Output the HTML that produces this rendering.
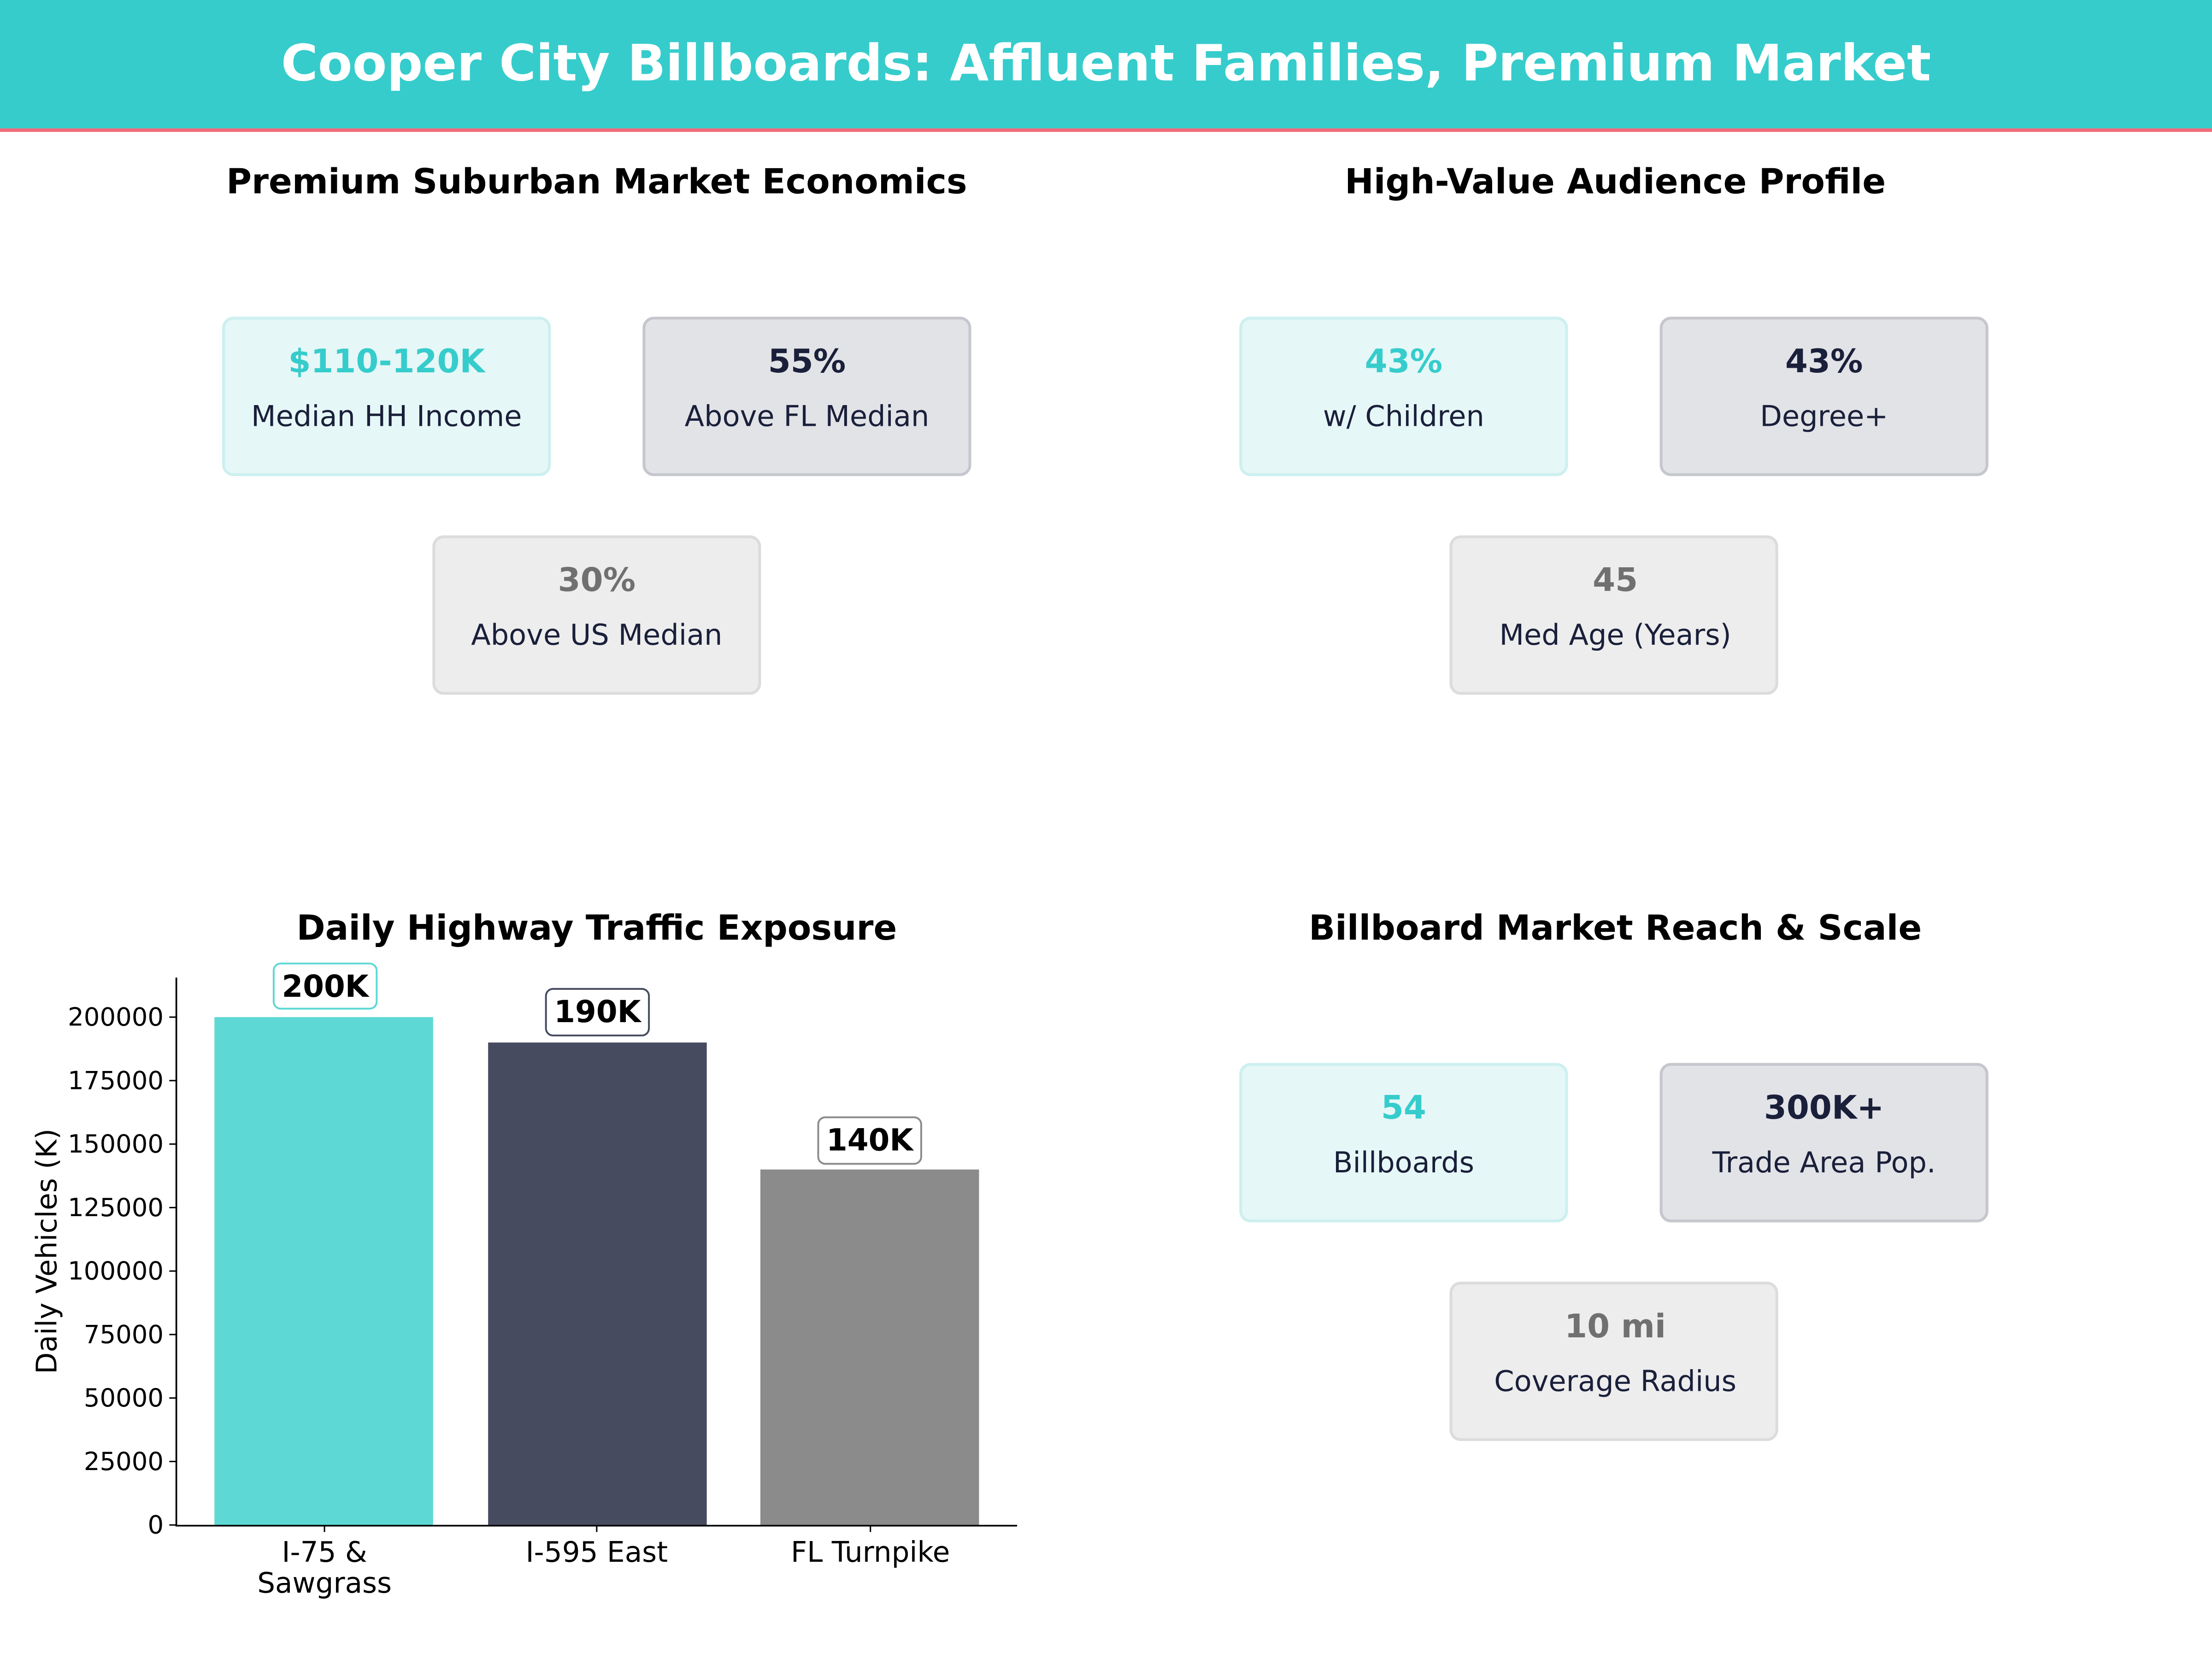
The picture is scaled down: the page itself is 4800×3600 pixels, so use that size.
<!DOCTYPE html>
<html><head><meta charset="utf-8"><style>
html,body{margin:0;padding:0;background:#fff}
svg{display:block}
text{font-family:"DejaVu Sans","Liberation Sans",sans-serif}
.t{font-weight:bold;font-size:24.5px;fill:#000;text-anchor:middle}
.v{font-weight:bold;font-size:23px;text-anchor:middle}
.l{font-size:20.3px;fill:#1a1f3a;text-anchor:middle}
.tk{font-size:17.8px;fill:#000}
.xk{font-size:20px;fill:#000}
</style></head><body>
<svg width="4800" height="3600" viewBox="0 0 1568 1176" xmlns="http://www.w3.org/2000/svg">
<rect x="0" y="0" width="1568" height="91" fill="#36cccc"/>
<rect x="0" y="91" width="1568" height="2.5" fill="#f06a7a"/>
<text x="784" y="57" text-anchor="middle" font-weight="bold" font-size="35.6" fill="#fff">Cooper City Billboards: Affluent Families, Premium Market</text>

<text class="t" x="423" y="137">Premium Suburban Market Economics</text>
<text class="t" x="1145" y="137">High-Value Audience Profile</text>
<text class="t" x="423" y="666">Daily Highway Traffic Exposure</text>
<text class="t" x="1145" y="666">Billboard Market Reach &amp; Scale</text>

<g id="cards">
<rect x="158.5" y="225.5" width="231" height="111" rx="7" fill="#e6f7f7" stroke="#cdeff0" stroke-width="2"/>
<text class="v" x="274" y="264" fill="#36cccc">$110-120K</text><text class="l" x="274" y="302">Median HH Income</text>
<rect x="456.5" y="225.5" width="231" height="111" rx="7" fill="#e2e3e7" stroke="#c6c7cd" stroke-width="2"/>
<text class="v" x="572" y="264" fill="#1a1f3a">55%</text><text class="l" x="572" y="302">Above FL Median</text>
<rect x="307.5" y="380.5" width="231" height="111" rx="7" fill="#ededed" stroke="#dcdcdc" stroke-width="2"/>
<text class="v" x="423" y="419" fill="#707070">30%</text><text class="l" x="423" y="457">Above US Median</text>
<rect x="879.5" y="225.5" width="231" height="111" rx="7" fill="#e6f7f7" stroke="#cdeff0" stroke-width="2"/>
<text class="v" x="995" y="264" fill="#36cccc">43%</text><text class="l" x="995" y="302">w/ Children</text>
<rect x="1177.5" y="225.5" width="231" height="111" rx="7" fill="#e2e3e7" stroke="#c6c7cd" stroke-width="2"/>
<text class="v" x="1293" y="264" fill="#1a1f3a">43%</text><text class="l" x="1293" y="302">Degree+</text>
<rect x="1028.5" y="380.5" width="231" height="111" rx="7" fill="#ededed" stroke="#dcdcdc" stroke-width="2"/>
<text class="v" x="1145" y="419" fill="#707070">45</text><text class="l" x="1145" y="457">Med Age (Years)</text>
<rect x="879.5" y="754.5" width="231" height="111" rx="7" fill="#e6f7f7" stroke="#cdeff0" stroke-width="2"/>
<text class="v" x="995" y="793" fill="#36cccc">54</text><text class="l" x="995" y="831">Billboards</text>
<rect x="1177.5" y="754.5" width="231" height="111" rx="7" fill="#e2e3e7" stroke="#c6c7cd" stroke-width="2"/>
<text class="v" x="1293" y="793" fill="#1a1f3a">300K+</text><text class="l" x="1293" y="831">Trade Area Pop.</text>
<rect x="1028.5" y="909.5" width="231" height="111" rx="7" fill="#ededed" stroke="#dcdcdc" stroke-width="2"/>
<text class="v" x="1145" y="948" fill="#707070">10 mi</text><text class="l" x="1145" y="986">Coverage Radius</text>
</g>

<rect x="152" y="721" width="155" height="360" fill="#5dd8d4"/>
<rect x="346" y="739" width="155" height="342" fill="#464b60"/>
<rect x="539" y="829" width="155" height="252" fill="#8b8b8b"/>
<line x1="125" y1="693" x2="125" y2="1081.5" stroke="#000" stroke-width="1.2"/>
<line x1="124.4" y1="1081.5" x2="721" y2="1081.5" stroke="#000" stroke-width="1.2"/>
<g stroke="#000" stroke-width="1">
<line x1="120" y1="1081" x2="125" y2="1081"/><line x1="120" y1="1036" x2="125" y2="1036"/>
<line x1="120" y1="991" x2="125" y2="991"/><line x1="120" y1="946" x2="125" y2="946"/>
<line x1="120" y1="901" x2="125" y2="901"/><line x1="120" y1="856" x2="125" y2="856"/>
<line x1="120" y1="811" x2="125" y2="811"/><line x1="120" y1="766" x2="125" y2="766"/>
<line x1="120" y1="721" x2="125" y2="721"/>
<line x1="230" y1="1081" x2="230" y2="1086"/><line x1="423" y1="1081" x2="423" y2="1086"/><line x1="617" y1="1081" x2="617" y2="1086"/>
</g>
<g class="tk" text-anchor="end">
<text x="116" y="1087">0</text><text x="116" y="1042">25000</text><text x="116" y="997">50000</text>
<text x="116" y="952">75000</text><text x="116" y="907">100000</text><text x="116" y="862">125000</text>
<text x="116" y="817">150000</text><text x="116" y="772">175000</text><text x="116" y="727">200000</text>
</g>
<g class="xk" text-anchor="middle">
<text x="230" y="1107">I-75 &amp;</text><text x="230" y="1129">Sawgrass</text>
<text x="423" y="1107">I-595 East</text><text x="617" y="1107">FL Turnpike</text>
</g>
<text font-size="20" transform="translate(40,887) rotate(-90)" text-anchor="middle">Daily Vehicles (K)</text>
<rect x="194" y="683" width="73" height="32" rx="5" fill="#fff" stroke="#5dd8d4" stroke-width="1.3"/>
<text x="230.5" y="706.5" text-anchor="middle" font-weight="bold" font-size="21.5">200K</text>
<rect x="387" y="701" width="73" height="33" rx="5" fill="#fff" stroke="#464b60" stroke-width="1.3"/>
<text x="423.5" y="724.5" text-anchor="middle" font-weight="bold" font-size="21.5">190K</text>
<rect x="580" y="792" width="73" height="33" rx="5" fill="#fff" stroke="#8b8b8b" stroke-width="1.3"/>
<text x="616.5" y="815.5" text-anchor="middle" font-weight="bold" font-size="21.5">140K</text>
</svg>
</body></html>
